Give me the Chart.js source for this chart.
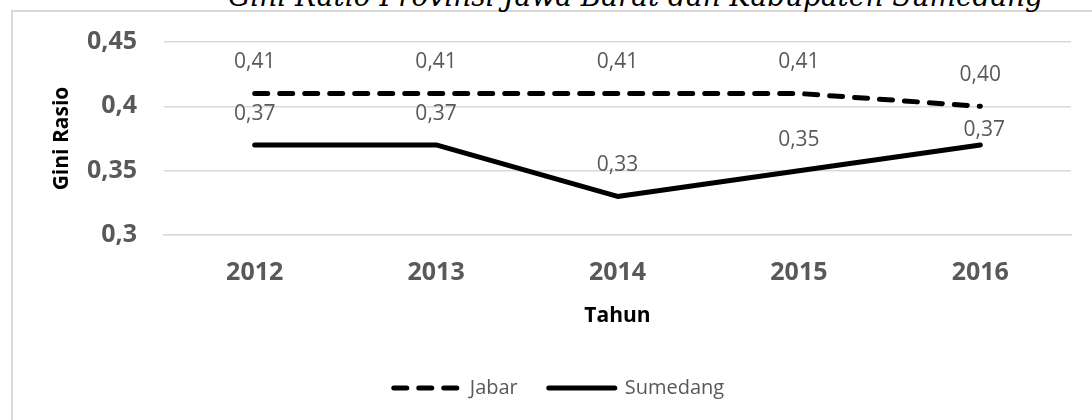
<!DOCTYPE html>
<html>
<head>
<meta charset="utf-8">
<script src="https://cdn.jsdelivr.net/npm/chart.js@4.4.1/dist/chart.umd.min.js"></script>
<style>
html,body{margin:0;padding:0;width:1092px;height:420px;overflow:hidden;background:#fff;}
#frame{position:absolute;left:11px;top:10px;width:1300px;height:600px;border-left:2px solid #d9d9d9;border-top:2px solid #d9d9d9;box-sizing:border-box;}
#cap{position:absolute;left:228px;top:-18px;font-family:"DejaVu Serif",serif;font-style:italic;font-size:30px;line-height:30px;white-space:nowrap;color:#000;transform-origin:0 0;}
#wrap{position:absolute;left:0;top:0;width:1118px;height:420px;}
</style>
</head>
<body>
<div id="frame"></div>
<div id="cap">Gini Ratio Provinsi Jawa Barat dan Kabupaten Sumedang</div>
<div id="wrap"><canvas id="c" width="1118" height="420"></canvas></div>
<script>
// ---- data ----
const categories = ['2012', '2013', '2014', '2015', '2016'];
const jabar = [0.41, 0.41, 0.41, 0.41, 0.40];
const sumedang = [0.37, 0.37, 0.33, 0.35, 0.37];
const seriesNames = ['Jabar', 'Sumedang'];
const yTicks = [0.3, 0.35, 0.4, 0.45];
const captionText = 'Gini Ratio Provinsi Jawa Barat dan Kabupaten Sumedang';
const xTitle = 'Tahun';
const yTitle = 'Gini Rasio';

// ---- caption fit ----
(function(){
  const cap = document.getElementById('cap');
  cap.textContent = captionText;
  const fs = 30;
  const m = document.createElement('canvas').getContext('2d');
  m.font = 'italic ' + fs + 'px "DejaVu Serif"';
  const w = m.measureText(captionText).width;
  cap.style.top = (6 - 0.846 * fs) + 'px';
  cap.style.transform = 'scaleX(' + (815 / w) + ')';
})();

const FONT = '"Open Sans", sans-serif';
const fmt = v => (Math.round(v * 100) / 100).toFixed(2).replace('.', ',');

// label placement (style): default offset above the point, with one nudged label
const labelOffset = { dx: 0, dy: -31 };
const labelNudges = { '1-4': { dx: 4, dy: -15 } };

const valueLabels = {
  id: 'valueLabels',
  afterDatasetsDraw(chart) {
    const ctx = chart.ctx;
    ctx.save();
    ctx.font = '21px ' + FONT;
    ctx.fillStyle = '#595959';
    ctx.textAlign = 'center';
    ctx.textBaseline = 'middle';
    chart.data.datasets.forEach((ds, i) => {
      const meta = chart.getDatasetMeta(i);
      meta.data.forEach((pt, j) => {
        const o = labelNudges[i + '-' + j] || labelOffset;
        ctx.fillText(fmt(ds.data[j]), pt.x + o.dx, pt.y + o.dy);
      });
    });
    ctx.restore();
  }
};

new Chart(document.getElementById('c'), {
  type: 'line',
  data: {
    labels: categories,
    datasets: [
      { label: seriesNames[0], data: jabar, borderColor: '#000', backgroundColor: '#000',
        borderWidth: 5, borderDash: [13, 12], borderCapStyle: 'round', borderJoinStyle: 'round',
        pointRadius: 0, pointHoverRadius: 0, tension: 0, yAxisID: 'y' },
      { label: seriesNames[1], data: sumedang, borderColor: '#000', backgroundColor: '#000',
        borderWidth: 5, borderCapStyle: 'round', borderJoinStyle: 'round',
        pointRadius: 0, pointHoverRadius: 0, tension: 0, yAxisID: 'y' }
    ]
  },
  options: {
    responsive: false,
    animation: false,
    layout: { padding: { left: 0, right: 0, top: 41, bottom: 12 } },
    plugins: {
      tooltip: { enabled: false },
      legend: {
        position: 'bottom',
        labels: {
          usePointStyle: true, pointStyle: 'line', pointStyleWidth: 66,
          padding: 31, color: '#595959', font: { family: FONT, size: 20 },
          generateLabels(chart) {
            return chart.data.datasets.map((ds, i) => ({
              text: ds.label,
              fillStyle: ds.borderColor,
              strokeStyle: ds.borderColor,
              lineWidth: ds.borderWidth,
              lineDash: ds.borderDash || [],
              lineDashOffset: 0,
              lineCap: ds.borderCapStyle,
              lineJoin: 'round',
              pointStyle: 'line',
              fontColor: '#595959',
              hidden: false,
              datasetIndex: i
            }));
          }
        }
      }
    },
    scales: {
      x: {
        offset: true,
        afterFit(s) { s.height = 112; },
        grid: { display: false, drawTicks: false },
        border: { display: true, color: '#d9d9d9', width: 1.5 },
        ticks: { padding: 23, color: '#595959', font: { family: FONT, size: 25, weight: 'bold' } },
        title: { display: true, text: xTitle, color: '#000', font: { family: FONT, size: 21, weight: 'bold' },
                 padding: { top: 0, bottom: 18 } }
      },
      y: {
        position: 'left',
        min: yTicks[0], max: yTicks[yTicks.length - 1],
        afterFit(s) { s.width = 164; },
        afterBuildTicks(s) { s.ticks = yTicks.map(v => ({ value: v })); },
        grid: { color: '#d9d9d9', lineWidth: 1.5, drawTicks: false },
        border: { display: false },
        ticks: { padding: 27, color: '#595959', font: { family: FONT, size: 25, weight: 'bold' },
                 callback: v => String(Math.round(v * 100) / 100).replace('.', ',') },
        title: { display: true, text: yTitle, color: '#000', font: { family: FONT, size: 21, weight: 'bold' },
                 padding: { top: 49, bottom: 0 } }
      },
      yR: {
        position: 'right',
        afterFit(s) { s.width = 47; },
        grid: { display: false, drawTicks: false },
        border: { display: false },
        ticks: { display: false }
      }
    }
  },
  plugins: [valueLabels]
});
</script>
</body>
</html>
